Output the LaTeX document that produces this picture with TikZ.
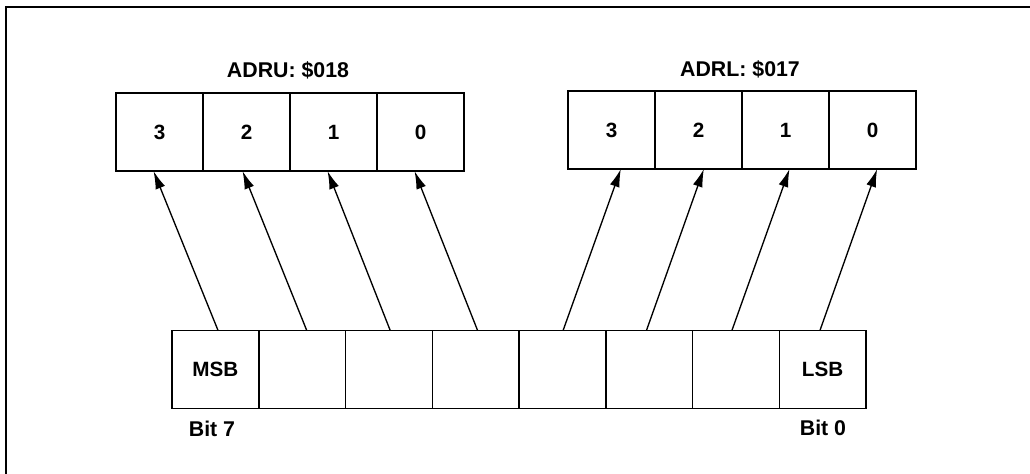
\documentclass[tikz,border=0pt]{standalone}
\usepackage{fontspec}
\setmainfont{Liberation Sans}
\usetikzlibrary{arrows.meta}
\begin{document}
\begin{tikzpicture}[x=0.75pt,y=-0.75pt,
  cell/.style={draw, line width=1.1pt, minimum width=65.06pt, minimum height=58.5pt, inner sep=0pt, outer sep=0pt, font=\fontsize{15.5}{17}\selectfont\bfseries},
  lbl/.style={font=\fontsize{16}{18}\selectfont\bfseries, inner sep=0pt},
  arr/.style={line width=1pt, -{Latex[length=13.5pt,width=7.5pt]}},
  frame/.style={line width=2.2pt}]
\useasboundingbox (0,0) rectangle (1030,474);
\draw[frame] (6,474) -- (6,7) -- (1030,7);
% ADRU
\node[lbl] (adru) at (288,70) {ADRU: \$018};
\node[cell] (u3) at (159.5,132) {3};
\node[cell] (u2) at (246.5,132) {2};
\node[cell] (u1) at (333.5,132) {1};
\node[cell] (u0) at (420.5,132) {0};
% ADRL
\node[lbl] (adrl) at (740,69) {ADRL: \$017};
\node[cell] (l3) at (611.5,130) {3};
\node[cell] (l2) at (698.5,130) {2};
\node[cell] (l1) at (785.5,130) {1};
\node[cell] (l0) at (872.5,130) {0};
% byte
\node[cell] (b7) at (215.4,369.5) {MSB};
\node[cell] (b6) at (302.1,369.5) {};
\node[cell] (b5) at (388.9,369.5) {};
\node[cell] (b4) at (475.6,369.5) {};
\node[cell] (b3) at (562.4,369.5) {};
\node[cell] (b2) at (649.1,369.5) {};
\node[cell] (b1) at (735.9,369.5) {};
\node[cell] (b0) at (822.6,369.5) {LSB};
\node[lbl] (bit7) at (212,429) {Bit 7};
\node[lbl] (bit0) at (823,428) {Bit 0};
% arrows
\draw[arr] ([xshift=2pt]b7.north) -- ([xshift=-4.5pt]u3.south);
\draw[arr] ([xshift=3.5pt]b6.north) -- ([xshift=-3pt]u2.south);
\draw[arr] ([xshift=1pt]b5.north) -- ([xshift=-4.5pt]u1.south);
\draw[arr] ([xshift=1.5pt]b4.north) -- ([xshift=-4.5pt]u0.south);
\draw[arr] ([xshift=0.5pt]b3.north) -- ([xshift=7pt]l3.south);
\draw[arr] ([xshift=-2pt]b2.north) -- ([xshift=4pt]l2.south);
\draw[arr] ([xshift=-3pt]b1.north) -- ([xshift=3pt]l1.south);
\draw[arr] ([xshift=-2pt]b0.north) -- ([xshift=3.5pt]l0.south);
\end{tikzpicture}
\end{document}
